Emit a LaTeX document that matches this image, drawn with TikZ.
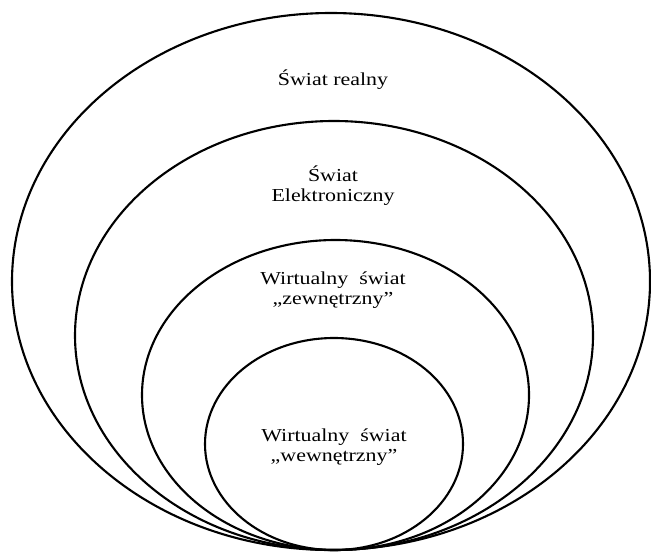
\documentclass[tikz,border=0pt]{standalone}
\usepackage{fontspec}
\setmainfont{Liberation Serif}

\tikzset{
	world/.style={draw,line width=1.2pt},
	label/.style={align=center,xscale=1.2,font=\fontsize{10.4}{11.4}\selectfont}
}

\begin{document}
\begin{tikzpicture}[x=0.02cm,y=0.02cm]
	\useasboundingbox (0,0) rectangle (651,552);
	% nested worlds, all touching at the bottom
	\draw[world] (331,270.5) ellipse [x radius=319, y radius=268.5];
	\draw[world] (334,216.5) ellipse [x radius=259, y radius=214.5];
	\draw[world] (335.5,157) ellipse [x radius=193.5, y radius=155];
	\draw[world] (334,108) ellipse [x radius=129, y radius=106];

	\node[label] (real) at (333,472) {Świat realny};
	\node[label] (elec) at (333,366) {Świat\\Elektroniczny};
	\node[label] (outer) at (333,262) {Wirtualny\ \ świat\\„zewnętrzny”};
	\node[label] (inner) at (334,105) {Wirtualny\ \ świat\\„wewnętrzny”};
\end{tikzpicture}
\end{document}
